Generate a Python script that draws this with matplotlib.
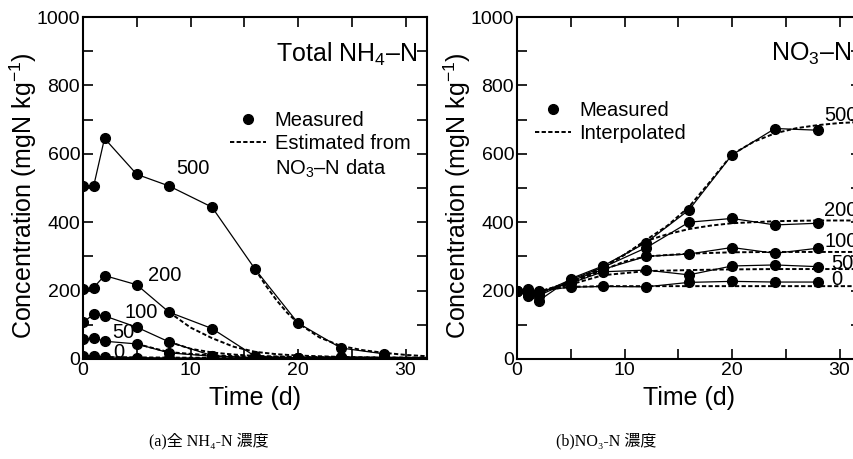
import matplotlib
matplotlib.use("Agg")
from matplotlib import pyplot as plt

plt.rcParams["font.family"] = ["Liberation Sans", "DejaVu Sans"]
plt.rcParams["mathtext.fontset"] = "custom"
plt.rcParams["mathtext.rm"] = "Liberation Sans"
plt.rcParams["mathtext.it"] = "Liberation Sans:italic"
plt.rcParams["mathtext.default"] = "rm"

# measured sampling days
days = [0, 1, 2, 5, 8, 12, 16, 20, 24, 28]
levels = ["0", "50", "100", "200", "500"]

# (a) total NH4-N, measured
nh4_0 = [10, 8, 6, 4, 3, 3, 3, 3, 3, 3]
nh4_50 = [58, 61, 52, 44, 18, 8, 4, 3, 4, 3]
nh4_100 = [107, 131, 126, 93, 50, 10, 3, 2, 5, 2]
nh4_200 = [205, 209, 244, 217, 137, 89, 8, 3, 5, 3]
nh4_500 = [505, 507, 645, 540, 506, 444, 263, 105, 32, 15]

# (a) estimated from NO3-N data
est_0_t = [0, 8, 16, 24, 32]
est_0 = [6, 4, 3, 3, 3]
est_50_t = [5, 8, 12, 16, 20, 24, 28, 32]
est_50 = [44, 20, 10, 7, 5, 4, 4, 3]
est_100_t = [8, 10, 12, 14, 16, 20, 24, 28, 32]
est_100 = [50, 30, 19, 13, 9, 6, 5, 4, 4]
est_200_t = [8, 10, 12, 14, 16, 18, 20, 24, 28, 32]
est_200 = [137, 92, 61, 36, 21, 14, 10, 6, 4, 3]
est_500_t = [16, 17, 18, 19, 20, 22, 24, 26, 28, 30, 32]
est_500 = [263, 215, 172, 135, 105, 63, 38, 26, 18, 12, 8]

# (b) NO3-N, measured
no3_0 = [200, 195, 200, 210, 212, 211, 224, 227, 225, 225]
no3_50 = [200, 190, 195, 222, 255, 260, 246, 272, 275, 270]
no3_100 = [200, 200, 185, 228, 262, 300, 307, 326, 309, 324]
no3_200 = [200, 205, 190, 232, 268, 325, 400, 411, 392, 397]
no3_500 = [200, 185, 170, 235, 272, 340, 436, 597, 674, 669]

# (b) interpolated
int_0_t = [0, 2, 5, 8, 12, 16, 20, 24, 28, 32]
int_0 = [200, 200, 211, 213, 213, 213, 213, 213, 213, 213]
int_50_t = [0, 2, 5, 8, 12, 16, 20, 24, 28, 32]
int_50 = [200, 195, 218, 245, 257, 260, 262, 263, 263, 263]
int_100_t = [0, 2, 5, 8, 10, 12, 16, 20, 24, 28, 32]
int_100 = [200, 195, 222, 260, 285, 300, 308, 312, 313, 313, 313]
int_200_t = [0, 2, 5, 8, 10, 12, 14, 16, 18, 20, 24, 28, 32]
int_200 = [200, 195, 225, 265, 305, 345, 365, 380, 390, 397, 403, 405, 405]
int_500_t = [0, 2, 5, 8, 10, 12, 14, 16, 18, 20, 22, 24, 26, 28, 30, 32]
int_500 = [200, 196, 225, 270, 305, 348, 390, 445, 520, 598, 635, 660, 675, 684, 690, 693]

nh4 = [nh4_0, nh4_50, nh4_100, nh4_200, nh4_500]
est = [(est_0_t, est_0), (est_50_t, est_50), (est_100_t, est_100),
       (est_200_t, est_200), (est_500_t, est_500)]
no3 = [no3_0, no3_50, no3_100, no3_200, no3_500]
interp = [(int_0_t, int_0), (int_50_t, int_50), (int_100_t, int_100),
          (int_200_t, int_200), (int_500_t, int_500)]

# label positions (x, y) in data units
nh4_lab = [(2.8, 18), (2.7, 76), (3.9, 137), (6.0, 245), (8.7, 558)]
no3_lab = [(29.2, 233), (29.2, 280), (28.6, 345), (28.6, 435), (28.6, 713)]

fig = plt.figure(figsize=(8.54, 4.59), dpi=100)
ax1 = fig.add_axes([0.0972, 0.2179, 0.4028, 0.745])
ax2 = fig.add_axes([0.6054, 0.2179, 0.4028, 0.745])

dash = (0, (2.2, 1.2))
fs = 14.5


def style(ax):
    ax.set_xlim(0, 32)
    ax.set_ylim(0, 1000)
    ax.set_xticks([0, 10, 20, 30])
    ax.set_xticks([5, 15, 25], minor=True)
    ax.set_yticks(range(0, 1001, 200))
    ax.set_yticks(range(100, 1000, 200), minor=True)
    ax.tick_params(which="both", direction="in", top=True, right=True,
                   labelsize=14, width=1.2, pad=2)
    ax.tick_params(which="major", length=7)
    ax.tick_params(which="minor", length=7)
    for s in ax.spines.values():
        s.set_linewidth(1.5)
    ax.set_xlabel("Time (d)", fontsize=18)
    ax.set_ylabel("Concentration (mgN kg$^{-1}$)", fontsize=18)
    ax.xaxis.set_label_coords(0.5, -0.078)
    ax.yaxis.set_label_coords(-0.128, 0.477)


for ys, (et, ev), (lx, ly), lab in zip(nh4, est, nh4_lab, levels):
    ax1.plot(et, ev, color="black", lw=1.4, ls=dash)
    ax1.plot(days, ys, color="black", lw=0.9, marker="o", ms=7)
    ax1.text(lx, ly, lab, fontsize=fs, va="center", ha="left")

for ys, (it, iv), (lx, ly), lab in zip(no3, interp, no3_lab, levels):
    ax2.plot(it, iv, color="black", lw=1.4, ls=dash)
    ax2.plot(days, ys, color="black", lw=0.9, marker="o", ms=7)
    ax2.text(lx, ly, lab, fontsize=fs, va="center", ha="left")

style(ax1)
style(ax2)

ax1.text(31.1, 892, "Total NH$_4$\u2013N", fontsize=18, ha="right", va="center")
ax2.text(23.6, 892, "NO$_3$\u2013N", fontsize=18, ha="left", va="center")

h1 = ax1.plot([], [], "o", color="black", ms=7)[0]
h2 = ax1.plot([], [], color="black", lw=1.4, ls=dash)[0]
h0 = ax1.plot([], [], color="none")[0]
ax1.legend([h1, h2, h0], ["Measured", "Estimated from", "NO$_3$\u2013N data"],
           loc="upper left", bbox_to_anchor=(0.428, 0.725), frameon=False,
           fontsize=fs, handlelength=1.8, handletextpad=0.4,
           labelspacing=0.22, borderaxespad=0, borderpad=0)

h3 = ax2.plot([], [], "o", color="black", ms=7)[0]
h4 = ax2.plot([], [], color="black", lw=1.4, ls=dash)[0]
ax2.legend([h3, h4], ["Measured", "Interpolated"],
           loc="upper left", bbox_to_anchor=(0.052, 0.755), frameon=False,
           fontsize=fs, handlelength=1.8, handletextpad=0.4,
           labelspacing=0.2, borderaxespad=0, borderpad=0)

cap = ["Liberation Serif", "DejaVu Serif", "Noto Sans CJK JP"]
fig.text(209 / 854, 1 - 441 / 459, "(a)全 NH\u2084-N 濃度", family=cap,
         fontsize=11.5, ha="center", va="center")
fig.text(606 / 854, 1 - 441 / 459, "(b)NO\u2083-N 濃度", family=cap,
         fontsize=11.5, ha="center", va="center")

fig.savefig("out.png", dpi=100)
